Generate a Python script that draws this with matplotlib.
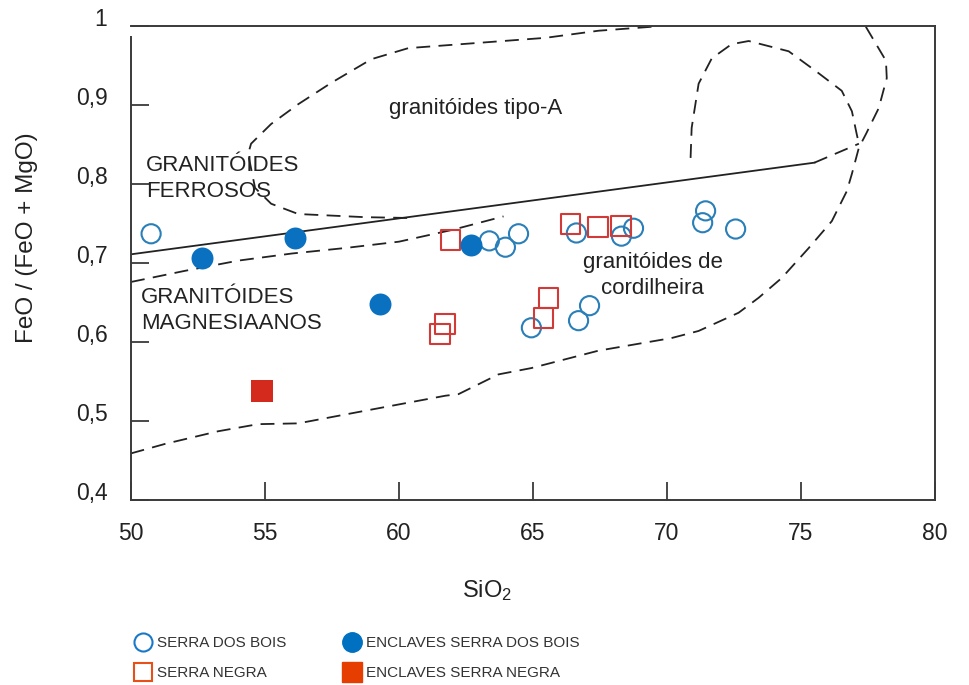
import numpy as np
import matplotlib
matplotlib.use("Agg")
import matplotlib.pyplot as plt
import matplotlib.transforms as mtransforms
from matplotlib.lines import Line2D

plt.rcParams["font.family"] = ["Liberation Sans", "DejaVu Sans"]
plt.rcParams["mathtext.fontset"] = "custom"
plt.rcParams["mathtext.rm"] = "Liberation Sans"
plt.rcParams["mathtext.it"] = "Liberation Sans:italic"
plt.rcParams["lines.scale_dashes"] = False

# --- amostras: SiO2 vs FeO/(FeO+MgO) ---
sdb_sio2 = [50.75, 63.37, 63.97, 64.46, 64.94, 66.62, 66.70, 67.11, 68.30, 68.75, 71.44, 71.33, 72.56]
sdb_fe = [0.737, 0.728, 0.720, 0.737, 0.618, 0.738, 0.627, 0.646, 0.734, 0.744, 0.766, 0.751, 0.743]

enc_sdb_sio2 = [52.65, 56.13, 59.30, 62.70]
enc_sdb_fe = [0.706, 0.732, 0.648, 0.723]

sn_sio2 = [61.54, 61.73, 61.92, 65.39, 65.58, 66.40, 67.44, 68.27]
sn_fe = [0.610, 0.623, 0.729, 0.630, 0.656, 0.749, 0.746, 0.747]

enc_sn_sio2 = [54.89]
enc_sn_fe = [0.538]

# --- limites dos campos ---
# limite ferroso / magnesiano
div_x = [50.0, 75.5]
div_y = [0.711, 0.827]
div_ext_x = [75.5, 77.16]
div_ext_y = [0.827, 0.851]

# limite inferior da faixa de transição
band_x = [50.0, 52.0, 54.0, 56.0, 58.0, 60.0, 62.0, 63.9]
band_y = [0.676, 0.690, 0.703, 0.712, 0.719, 0.727, 0.742, 0.759]

# campo dos granitóides tipo-A
tipoa_x = [69.42, 67.44, 65.46, 60.35, 58.97, 57.47, 56.24, 55.23, 54.48, 54.37,
           54.63, 55.23, 56.24, 58.74, 60.35]
tipoa_y = [0.999, 0.994, 0.985, 0.972, 0.958, 0.928, 0.901, 0.876, 0.851, 0.838,
           0.795, 0.775, 0.762, 0.758, 0.757]

# laço superior direito
laco_x = [70.88, 70.92, 71.18, 71.67, 72.41, 73.05, 74.54, 75.55, 76.52, 76.90, 77.08, 77.16]
laco_y = [0.833, 0.871, 0.927, 0.959, 0.977, 0.981, 0.968, 0.943, 0.918, 0.892, 0.863, 0.851]

# campo dos granitóides de cordilheira
cord_x = [77.42, 78.17, 78.20, 77.90, 77.42, 77.16, 76.90, 76.71, 76.15, 75.29, 74.28,
          73.42, 72.67, 71.18, 70.17, 67.44, 64.94, 63.71, 62.22, 61.73, 58.74, 56.24,
          54.74, 53.25, 51.27, 50.0]
cord_y = [0.999, 0.956, 0.934, 0.896, 0.863, 0.846, 0.813, 0.791, 0.753, 0.719, 0.681,
          0.656, 0.637, 0.614, 0.605, 0.589, 0.567, 0.559, 0.534, 0.532, 0.513, 0.497,
          0.496, 0.487, 0.471, 0.459]

xticks = [50, 55, 60, 65, 70, 75, 80]
yticks = [0.4, 0.5, 0.6, 0.7, 0.8, 0.9, 1.0]
yticklabels = ["0,4", "0,5", "0,6", "0,7", "0,8", "0,9", "1"]

ink = "#222222"
spine_c = "#3a3a3a"
dash = (0, (10, 6))

fig = plt.figure(figsize=(9.69, 6.85), dpi=100)
ax = fig.add_axes([131 / 969, 1 - 500 / 685, 804 / 969, 474 / 685])

ax.plot(div_x, div_y, color=ink, lw=1.3)
ax.plot(div_ext_x, div_ext_y, color=ink, lw=1.3, ls=dash)
ax.plot(band_x, band_y, color=ink, lw=1.3, ls=dash)
ax.plot(tipoa_x, tipoa_y, color=ink, lw=1.3, ls=dash)
ax.plot(laco_x, laco_y, color=ink, lw=1.3, ls=dash)
ax.plot(cord_x, cord_y, color=ink, lw=1.3, ls=dash)

ax.scatter(sdb_sio2, sdb_fe, s=190, marker="o", facecolors="none",
           edgecolors="#2a7fb8", linewidths=1.5, zorder=3)
ax.scatter(sn_sio2, sn_fe, s=205, marker="s", facecolors="none",
           edgecolors="#d23a38", linewidths=1.5, zorder=3)
ax.scatter(enc_sdb_sio2, enc_sdb_fe, s=250, marker="o", color="#0a70c0",
           linewidths=0, zorder=4)
ax.scatter(enc_sn_sio2, enc_sn_fe, s=245, marker="s", color="#d42a1e",
           linewidths=0, zorder=4)

txt = dict(fontsize=16, color=ink)
ax.text(62.85, 0.896, "granitóides tipo-A", ha="center", va="center", **txt)
ax.text(50.56, 0.807, "GRANITÓIDES\nFERROSOS", ha="left", va="center",
        linespacing=1.3, **txt)
ax.text(50.37, 0.640, "GRANITÓIDES\nMAGNESIAANOS", ha="left", va="center",
        linespacing=1.3, **txt)
ax.text(69.46, 0.684, "granitóides de\ncordilheira", ha="center", va="center",
        linespacing=1.3, **txt)

ax.set_xlim(50, 80)
ax.set_ylim(0.4, 1.0)
ax.set_xticks(xticks)
ax.set_xticklabels([str(v) for v in xticks])
ax.set_yticks(yticks)
ax.set_yticklabels(yticklabels)
ax.tick_params(direction="in", length=13, width=1.3, color=spine_c,
               labelsize=16.5, labelcolor=ink)
ax.tick_params(axis="x", pad=16)
ax.tick_params(axis="y", pad=17)

# rótulos do eixo y um pouco acima das marcas
shift = mtransforms.ScaledTranslation(0, 6.5 / 72, fig.dpi_scale_trans)
for lab in ax.get_yticklabels():
    lab.set_transform(lab.get_transform() + shift)

for side in ["left", "right", "top", "bottom"]:
    ax.spines[side].set_color(spine_c)
    ax.spines[side].set_linewidth(1.4)
ax.spines["left"].set_bounds(0.4, 0.986)

ax.set_xlabel("SiO$_2$", fontsize=17, color=ink)
ax.xaxis.label.set_va("center")
ax.xaxis.set_label_coords(0.443, -0.192)
ax.set_ylabel("FeO / (FeO + MgO)", fontsize=17.5, color=ink)
ax.yaxis.label.set_va("center")
ax.yaxis.set_label_coords(-0.129, 0.554)

handles = [
    Line2D([], [], ls="none", marker="o", ms=13, mfc="none", mec="#1a78c8", mew=1.5),
    Line2D([], [], ls="none", marker="s", ms=13, mfc="none", mec="#e8501a", mew=1.5),
    Line2D([], [], ls="none", marker="o", ms=14, mfc="#0070c0", mec="#0070c0"),
    Line2D([], [], ls="none", marker="s", ms=14, mfc="#e63d00", mec="#e63d00"),
]
labels = ["SERRA DOS BOIS", "SERRA NEGRA", "ENCLAVES SERRA DOS BOIS", "ENCLAVES SERRA NEGRA"]
leg = fig.legend(handles, labels, ncol=2, loc="upper left",
                 bbox_to_anchor=(134 / 969, 1 - 636 / 685), frameon=False,
                 fontsize=11, handlelength=1.15, handletextpad=0.35,
                 columnspacing=3.7, labelspacing=1.05, borderpad=0,
                 borderaxespad=0)
for t in leg.get_texts():
    t.set_color("#333333")

fig.savefig("out.png", dpi=100)
